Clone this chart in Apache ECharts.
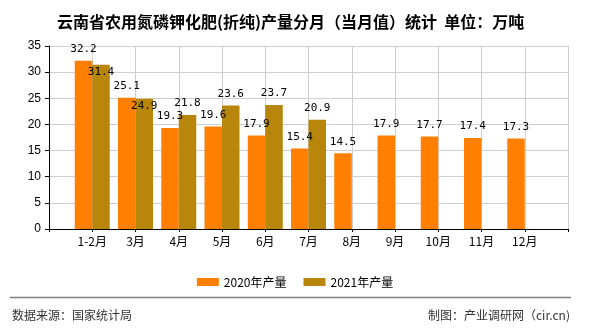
<!DOCTYPE html>
<html><head><meta charset="utf-8">
<script src="https://cdn.jsdelivr.net/npm/echarts@6/dist/echarts.min.js"></script>
<style>html,body{margin:0;padding:0;background:#fff}#c{width:590px;height:330px}</style>
</head><body><div id="c"></div>
<script>
const months = ['1-2月','3月','4月','5月','6月','7月','8月','9月','10月','11月','12月'];
const prod2020 = [32.2,25.1,19.3,19.6,17.9,15.4,14.5,17.9,17.7,17.4,17.3];
const prod2021 = [31.4,24.9,21.8,23.6,23.7,20.9,null,null,null,null,null];
const yTicks = [0,5,10,15,20,25,30,35];
const seriesNames = ['2020年产量','2021年产量'];
const insideLabel2021 = ['1-2月','3月'];

const cats = [''].concat(months, ['']);
const labelFont = {fontFamily:'DejaVu Sans Mono', fontSize:11, color:'#000'};
function build(vals, inside){
  const d = [null];
  vals.forEach((v,i)=>{
    if (v === null) { d.push(null); return; }
    const item = {value: v};
    if (inside && inside.indexOf(months[i]) >= 0) item.label = {position:'insideTop', distance:2};
    d.push(item);
  });
  d.push(null);
  return d;
}
const chart = echarts.init(document.getElementById('c'), null, {renderer:'canvas'});
chart.setOption({
  animation:false,
  backgroundColor:'#fff',
  title:{text:'云南省农用氮磷钾化肥(折纯)产量分月（当月值）统计  单位：万吨', left:52, top:9,
    textStyle:{fontFamily:'Noto Sans CJK SC', fontSize:16, fontWeight:'bold', color:'#000'}},
  legend:{data:seriesNames, left:'center', top:271, itemWidth:22, itemHeight:8, itemGap:17,
    icon:'rect', textStyle:{fontFamily:'Noto Sans CJK SC', fontSize:12, color:'#000'}},
  grid:{left:49, right:22, top:46, bottom:101, containLabel:false},
  xAxis:{type:'category', data:cats, boundaryGap:false,
    axisLine:{lineStyle:{color:'#000', width:1}},
    axisTick:{show:true, length:3, interval:0, lineStyle:{color:'#000'}},
    axisLabel:{interval:0, color:'#000', fontFamily:'Noto Sans CJK SC', fontSize:12, margin:6},
    splitLine:{show:true, interval:0, lineStyle:{color:'#cfcfcf'}}},
  yAxis:{type:'value', min:yTicks[0], max:yTicks[yTicks.length-1], interval:5,
    axisLine:{show:true, lineStyle:{color:'#000'}},
    axisTick:{show:true, length:4, lineStyle:{color:'#000'}},
    axisLabel:{color:'#000', fontFamily:'Liberation Sans', fontSize:12, margin:8},
    splitLine:{show:true, lineStyle:{color:'#cfcfcf'}}},
  series:[
    {name:seriesNames[0], type:'bar', data:build(prod2020), barWidth:17.5, barGap:'0%',
      itemStyle:{color:'#FF8000'}, label:Object.assign({show:true, position:'top', distance:6}, labelFont)},
    {name:seriesNames[1], type:'bar', data:build(prod2021, insideLabel2021), barWidth:17.5, barGap:'0%',
      itemStyle:{color:'#B8860B'}, label:Object.assign({show:true, position:'top', distance:6}, labelFont)}
  ],
  graphic:[
    {type:'line', shape:{x1:10, y1:297.5, x2:571, y2:297.5}, style:{stroke:'#808080', lineWidth:1.5}},
    {type:'text', left:12, top:309, style:{text:'数据来源：国家统计局', fontFamily:'Noto Sans CJK SC', fontSize:12, fill:'#333'}},
    {type:'text', right:20, top:309, style:{text:'制图：产业调研网（cir.cn)', fontFamily:'Noto Sans CJK SC', fontSize:12, fill:'#333'}}
  ]
});
</script></body></html>
